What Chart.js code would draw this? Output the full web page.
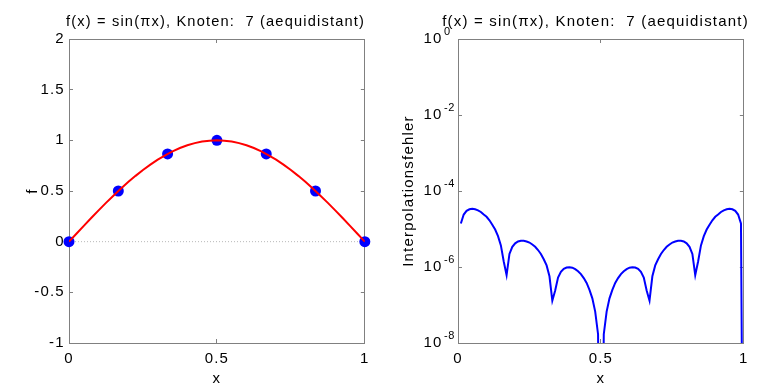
<!DOCTYPE html>
<html><head><meta charset="utf-8">
<script src="https://cdn.jsdelivr.net/npm/chart.js@4.4.0/dist/chart.umd.min.js"></script>
<style>
html,body{margin:0;padding:0;background:#fff;}
#wrap{position:relative;width:759px;height:386px;overflow:hidden;background:#fff;}
#c1{position:absolute;left:0;top:0;}
#c2{position:absolute;left:380px;top:0;}
</style></head><body>
<div id="wrap"><canvas id="c1" width="380" height="386"></canvas><canvas id="c2" width="379" height="386"></canvas></div>
<script>
// ---- data ----
const titleText = 'f(x) = sin(\u03c0x), Knoten:  7 (aequidistant)';
const nodeX = [0, 0.1667, 0.3333, 0.5, 0.6667, 0.8333, 1];
const nodeY = [0, 0.5, 0.866, 1, 0.866, 0.5, 0];
const curveX = [0,0.025,0.05,0.075,0.1,0.125,0.15,0.175,0.2,0.225,0.25,0.275,0.3,0.325,0.35,0.375,0.4,0.425,0.45,0.475,0.5,
  0.525,0.55,0.575,0.6,0.625,0.65,0.675,0.7,0.725,0.75,0.775,0.8,0.825,0.85,0.875,0.9,0.925,0.95,0.975,1];
const curveY = [0,0.0785,0.1564,0.2334,0.309,0.3827,0.454,0.5225,0.5878,0.6494,0.7071,0.7604,0.809,0.8526,0.891,0.9239,0.9511,0.9724,0.9877,0.9969,1,
  0.9969,0.9877,0.9724,0.9511,0.9239,0.891,0.8526,0.809,0.7604,0.7071,0.6494,0.5878,0.5225,0.454,0.3827,0.309,0.2334,0.1564,0.0785,0];
const zeroLineX = [0, 1];
const zeroLineY = [0, 0];
const errX = [0.01,0.02,0.03,0.04,0.05,0.06,0.07,0.08,0.09,0.10,0.11,0.12,0.13,0.14,0.15,0.16,0.17,0.18,0.19,0.20,
  0.21,0.22,0.23,0.24,0.25,0.26,0.27,0.28,0.29,0.30,0.31,0.32,0.33,0.34,0.35,0.36,0.37,0.38,0.39,0.40,
  0.41,0.42,0.43,0.44,0.45,0.46,0.47,0.48,0.49,0.50,0.51,0.52,0.53,0.54,0.55,0.56,0.57,0.58,0.59,0.60,
  0.61,0.62,0.63,0.64,0.65,0.66,0.67,0.68,0.69,0.70,0.71,0.72,0.73,0.74,0.75,0.76,0.77,0.78,0.79,0.80,
  0.81,0.82,0.83,0.84,0.85,0.86,0.87,0.88,0.89,0.90,0.91,0.92,0.93,0.94,0.95,0.96,0.97,0.98,0.99,1.00];
const errY = [1.4e-5,2.4e-5,3.0e-5,3.3e-5,3.4e-5,3.3e-5,3.1e-5,2.8e-5,2.4e-5,2.1e-5,
  1.7e-5,1.3e-5,9.7e-6,6.5e-6,3.7e-6,1.4e-6,6.1e-7,2.2e-6,3.4e-6,4.2e-6,
  4.7e-6,4.9e-6,4.9e-6,4.7e-6,4.4e-6,3.9e-6,3.4e-6,2.8e-6,2.2e-6,1.6e-6,
  1.1e-6,5.7e-7,1.3e-7,2.4e-7,5.3e-7,7.5e-7,9.0e-7,9.7e-7,9.9e-7,9.6e-7,
  8.8e-7,7.7e-7,6.5e-7,5.1e-7,3.8e-7,2.5e-7,1.5e-7,6.7e-8,1.7e-8,1e-16,
  1.7e-8,6.7e-8,1.5e-7,2.5e-7,3.8e-7,5.1e-7,6.5e-7,7.7e-7,8.8e-7,9.6e-7,
  9.9e-7,9.7e-7,9.0e-7,7.5e-7,5.3e-7,2.4e-7,1.3e-7,5.7e-7,1.1e-6,1.6e-6,
  2.2e-6,2.8e-6,3.4e-6,3.9e-6,4.4e-6,4.7e-6,4.9e-6,4.9e-6,4.7e-6,4.2e-6,
  3.4e-6,2.2e-6,6.1e-7,1.4e-6,3.7e-6,6.5e-6,9.7e-6,1.3e-5,1.7e-5,2.1e-5,
  2.4e-5,2.8e-5,3.1e-5,3.3e-5,3.4e-5,3.3e-5,3.0e-5,2.4e-5,1.4e-5,1e-16];
const xTicks = [0, 0.5, 1];
const xTickLabels = ['0', '0.5', '1'];
const leftYTicks = [-1, -0.5, 0, 0.5, 1, 1.5, 2];
const leftYTickLabels = ['-1', '-0.5', '0', '0.5', '1', '1.5', '2'];
const rightYTicks = [1e-8, 1e-6, 1e-4, 1e-2, 1];
const rightYTickBase = ['10', '10', '10', '10', '10'];
const rightYTickExp = ['-8', '-6', '-4', '-2', '0'];

// ---- style ----
const FONT = "'Liberation Sans', Arial, Helvetica, sans-serif";
Chart.defaults.font.family = FONT;
Chart.defaults.color = '#000';
const AX = '#808080';
const TICKLEN = -4;
const SPACING = '1.2px';

function pts(xs, ys) { return xs.map((x, i) => ({x: x, y: ys[i]})); }
function setTicks(vals) { return s => { s.ticks = vals.map(v => ({value: v})); }; }
function gridCfg() { return {display: true, drawOnChartArea: false, drawTicks: true, tickLength: TICKLEN, color: AX, lineWidth: 1}; }
function borderCfg() { return {display: true, color: AX, width: 1}; }

function xAxis() {
  return {
    type: 'linear', position: 'bottom', min: 0, max: 1,
    afterBuildTicks: setTicks(xTicks),
    ticks: {padding: 11, font: {size: 15}, color: '#000', maxRotation: 0, autoSkip: false,
      callback: (v, i) => xTickLabels[i]},
    grid: gridCfg(), border: borderCfg(),
    title: {display: true, text: 'x', font: {size: 15}, color: '#000', padding: {top: 0, bottom: -2}},
    afterFit: s => { s.height = 43; }
  };
}
function xTop() {
  return {
    type: 'linear', position: 'top', min: 0, max: 1,
    afterBuildTicks: setTicks(xTicks),
    ticks: {display: false}, grid: gridCfg(), border: borderCfg(),
    afterFit: s => { s.height = 0; }
  };
}

// widen text a little, like the reference rendering
const spacingPlugin = {
  id: 'spacing',
  beforeDraw(chart) { chart.ctx.letterSpacing = SPACING; },
  afterDraw(chart) { chart.ctx.letterSpacing = '0px'; }
};
// superscript exponents for the log axis labels
const expPlugin = {
  id: 'exponents',
  afterDraw(chart) {
    const s = chart.scales.y;
    const ctx = chart.ctx;
    ctx.save();
    ctx.letterSpacing = '0.6px';
    ctx.font = '11px ' + FONT;
    ctx.fillStyle = '#000';
    ctx.textAlign = 'left';
    ctx.textBaseline = 'alphabetic';
    rightYTicks.forEach((v, i) => {
      const y = s.getPixelForValue(v);
      ctx.fillText(rightYTickExp[i], s.right - 14, y - 4);
    });
    ctx.restore();
  }
};

const commonPlugins = {
  legend: {display: false},
  tooltip: {enabled: false}
};

// ---- left chart ----
new Chart(document.getElementById('c1'), {
  type: 'scatter',
  data: {
    datasets: [
      {label: 'Interpolant', data: pts(curveX, curveY), showLine: true, borderColor: '#ff0000', borderWidth: 2,
        pointRadius: 0, tension: 0, order: 0},
      {label: 'Knoten', data: pts(nodeX, nodeY), showLine: false, pointRadius: 5.5, pointBackgroundColor: '#0000ff',
        pointBorderWidth: 0, pointBorderColor: '#0000ff', order: 1, clip: false},
      {label: 'Null', data: pts(zeroLineX, zeroLineY), showLine: true, borderColor: '#b8b8b8', borderWidth: 1,
        borderDash: [1, 2], pointRadius: 0, order: 2}
    ]
  },
  options: {
    responsive: false, animation: false, devicePixelRatio: 1,
    layout: {padding: {left: 66, right: 15, top: 0, bottom: 0}},
    plugins: Object.assign({}, commonPlugins, {
      title: {display: true, text: titleText, fullSize: true, align: 'center', color: '#000',
        font: {size: 15, weight: 'normal'}, padding: {top: 13, bottom: 8}}
    }),
    scales: {
      x: xAxis(),
      x2: xTop(),
      y: {
        type: 'linear', position: 'left', min: -1, max: 2,
        afterBuildTicks: setTicks(leftYTicks),
        ticks: {mirror: true, crossAlign: 'far', padding: -30, font: {size: 15}, color: '#000',
          callback: (v, i) => leftYTickLabels[i]},
        grid: gridCfg(), border: borderCfg(),
        title: {display: true, text: 'f', font: {size: 15}, color: '#000', padding: {top: -42, bottom: 0}},
        afterFit: s => { s.width = 3; }
      },
      y2: {
        type: 'linear', position: 'right', min: -1, max: 2,
        afterBuildTicks: setTicks(leftYTicks),
        ticks: {display: false}, grid: gridCfg(), border: borderCfg(),
        afterFit: s => { s.width = 0; }
      }
    }
  },
  plugins: [spacingPlugin]
});

// ---- right chart ----
new Chart(document.getElementById('c2'), {
  type: 'scatter',
  data: {
    datasets: [
      {label: 'Interpolationsfehler', data: pts(errX, errY), showLine: true, borderColor: '#0000ff', borderWidth: 2,
        pointRadius: 0, tension: 0}
    ]
  },
  options: {
    responsive: false, animation: false, devicePixelRatio: 1,
    layout: {padding: {left: 59, right: 7, top: 0, bottom: 0}},
    plugins: Object.assign({}, commonPlugins, {
      title: {display: true, text: titleText, fullSize: true, align: 'center', color: '#000',
        font: {size: 15, weight: 'normal'}, padding: {top: 13, bottom: 8}}
    }),
    scales: {
      x: xAxis(),
      x2: xTop(),
      y: {
        type: 'logarithmic', position: 'left', min: 1e-8, max: 1,
        afterBuildTicks: setTicks(rightYTicks),
        ticks: {mirror: true, crossAlign: 'near', padding: -34.5, font: {size: 15}, color: '#000',
          callback: (v, i) => rightYTickBase[i]},
        grid: gridCfg(), border: borderCfg(),
        title: {display: true, text: 'Interpolationsfehler', font: {size: 15}, color: '#000', padding: {top: -39.5, bottom: 0}},
        afterFit: s => { s.width = 19; }
      },
      y2: {
        type: 'logarithmic', position: 'right', min: 1e-8, max: 1,
        afterBuildTicks: setTicks(rightYTicks),
        ticks: {display: false}, grid: gridCfg(), border: borderCfg(),
        afterFit: s => { s.width = 0; }
      }
    }
  },
  plugins: [spacingPlugin, expPlugin]
});
</script>
</body></html>
